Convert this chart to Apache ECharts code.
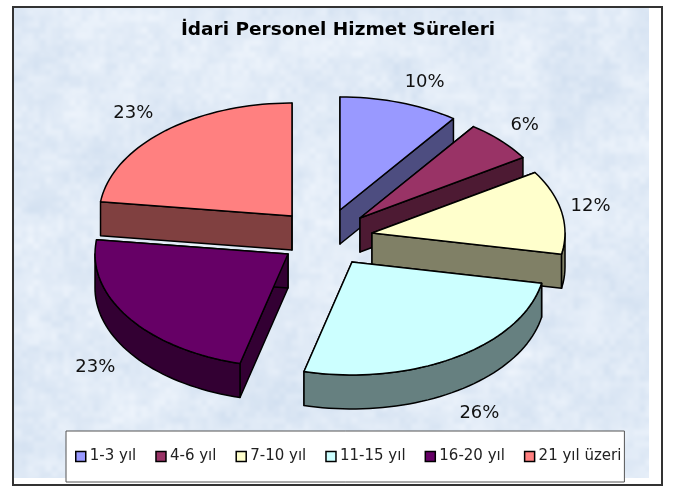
<!DOCTYPE html>
<html>
<head>
<meta charset="utf-8">
<style>html,body{margin:0;padding:0;background:#fff}#c{width:673px;height:488px}</style>
<script src="https://cdn.jsdelivr.net/npm/echarts@6/dist/echarts.min.js"></script>
</head>
<body>
<div id="c"></div>
<script>
// ---- data ----
var titleText = 'İdari Personel Hizmet Süreleri';
var categories = ['1-3 yıl', '4-6 yıl', '7-10 yıl', '11-15 yıl', '16-20 yıl', '21 yıl üzeri'];
var percentages = [10, 6, 12, 26, 23, 23];

// ---- styles and layout (not data) ----
var topColors = ['#9999FF', '#993366', '#FFFFCC', '#CCFFFF', '#660066', '#FF8080'];
var sideColors = ['#4D4D80', '#4D1A33', '#808066', '#668080', '#330033', '#804040'];
var radiusX = 193, radiusY = 113, depth = 34;
var sliceApex = [[340, 210], [360, 218], [372, 233], [352, 262], [288, 254], [292, 216]];
var labelShift = [[25, -20], [24, -15], [29, -5], [24, 56], [-33, 50], [-31, -18]];
var paintOrder = [1, 2, 3, 6, 5, 4];

// soft mottled paper texture for the plot background
function makeTexture(w, h) {
  var cv = document.createElement('canvas');
  cv.width = w; cv.height = h;
  var ctx = cv.getContext('2d');
  var img = ctx.createImageData(w, h);
  function hash(x, y) {
    var s = Math.sin(x * 127.1 + y * 311.7) * 43758.5453;
    return s - Math.floor(s);
  }
  function smooth(t) { return t * t * (3 - 2 * t); }
  function vnoise(x, y) {
    var xi = Math.floor(x), yi = Math.floor(y);
    var u = smooth(x - xi), v = smooth(y - yi);
    var a = hash(xi, yi), b = hash(xi + 1, yi), c = hash(xi, yi + 1), d = hash(xi + 1, yi + 1);
    return (a * (1 - u) + b * u) * (1 - v) + (c * (1 - u) + d * u) * v;
  }
  for (var y = 0; y < h; y++) {
    for (var x = 0; x < w; x++) {
      var n = 0.35 * vnoise(x / 40, y / 40) + 0.35 * vnoise(x / 16, y / 16) + 0.3 * vnoise(x / 6, y / 6);
      var t = (n - 0.5) * 1.5;
      var i = (y * w + x) * 4;
      img.data[i] = 224 + t * 22;
      img.data[i + 1] = 234 + t * 16;
      img.data[i + 2] = 246 + t * 9;
      img.data[i + 3] = 255;
    }
  }
  ctx.putImageData(img, 0, 0);
  return cv;
}

var total = percentages.reduce(function (a, b) { return a + b; }, 0);

function point(apex, deg, drop) {
  var r = deg * Math.PI / 180;
  return [apex[0] + radiusX * Math.sin(r), apex[1] - radiusY * Math.cos(r) + (drop || 0)];
}

function renderSlice(params, api) {
  var k = params.seriesIndex;
  var v = api.value(0);
  var before = percentages.slice(0, k).reduce(function (a, b) { return a + b; }, 0);
  var a0 = before / total * 360, a1 = a0 + v / total * 360;
  var apex = sliceApex[k];
  var line = { stroke: '#000', lineWidth: 1.5, lineJoin: 'round' };
  function style(color) { return Object.assign({ fill: color }, line); }
  function wall(deg) {
    var p = point(apex, deg);
    return { type: 'polygon', shape: { points: [apex, p, [p[0], p[1] + depth], [apex[0], apex[1] + depth]] }, style: style(sideColors[k]) };
  }
  var children = [wall(a0), wall(a1)];
  var from = Math.max(a0, 90), to = Math.min(a1, 270);
  if (to > from) {
    var upper = [], lower = [];
    for (var d = from; d < to; d += 2) { upper.push(point(apex, d)); lower.unshift(point(apex, d, depth)); }
    upper.push(point(apex, to)); lower.unshift(point(apex, to, depth));
    children.push({ type: 'polygon', shape: { points: upper.concat(lower) }, style: style(sideColors[k]) });
  }
  var pts = [apex];
  for (var e = a0; e < a1; e += 2) { pts.push(point(apex, e)); }
  pts.push(point(apex, a1));
  children.push({ type: 'polygon', shape: { points: pts }, style: style(topColors[k]) });
  var m = point(apex, (a0 + a1) / 2);
  children.push({
    type: 'text', z2: 50,
    style: {
      x: m[0] + labelShift[k][0], y: m[1] + labelShift[k][1],
      text: v + '%', fill: '#111', align: 'center', verticalAlign: 'middle',
      font: '18px "DejaVu Sans"'
    }
  });
  return { type: 'group', children: children };
}

var series = categories.map(function (name, k) {
  return {
    type: 'custom', name: name, coordinateSystem: 'none',
    z: 2 + paintOrder[k], silent: true, animation: false, clip: false,
    itemStyle: { color: topColors[k] },
    data: [[percentages[k]]],
    renderItem: renderSlice
  };
});

var chart = echarts.init(document.getElementById('c'), null, { renderer: 'canvas' });
chart.setOption({
  animation: false,
  backgroundColor: '#fff',
  title: {
    text: titleText, left: 338, top: 21, textAlign: 'center', padding: 0, z: 20,
    textStyle: { fontFamily: '"DejaVu Sans"', fontWeight: 'bold', fontSize: 18.5, color: '#000' }
  },
  legend: {
    data: categories, orient: 'horizontal', left: 66, top: 431,
    padding: [18, 3, 18, 9], itemGap: 19, itemWidth: 10, itemHeight: 10, icon: 'rect',
    backgroundColor: '#fff', borderColor: '#555', borderWidth: 1, borderRadius: 0,
    itemStyle: { borderColor: '#000', borderWidth: 1.5 },
    textStyle: { fontFamily: '"DejaVu Sans"', fontSize: 15, color: '#222', padding: [0, 0, 0, -1] },
    z: 20
  },
  graphic: [{
    type: 'rect', z: -1, silent: true,
    shape: { x: 13, y: 7, width: 649, height: 478 },
    style: { fill: { image: makeTexture(649, 478), repeat: 'no-repeat' }, stroke: '#333', lineWidth: 2 }
  }],
  series: series
});
</script>
</body>
</html>
